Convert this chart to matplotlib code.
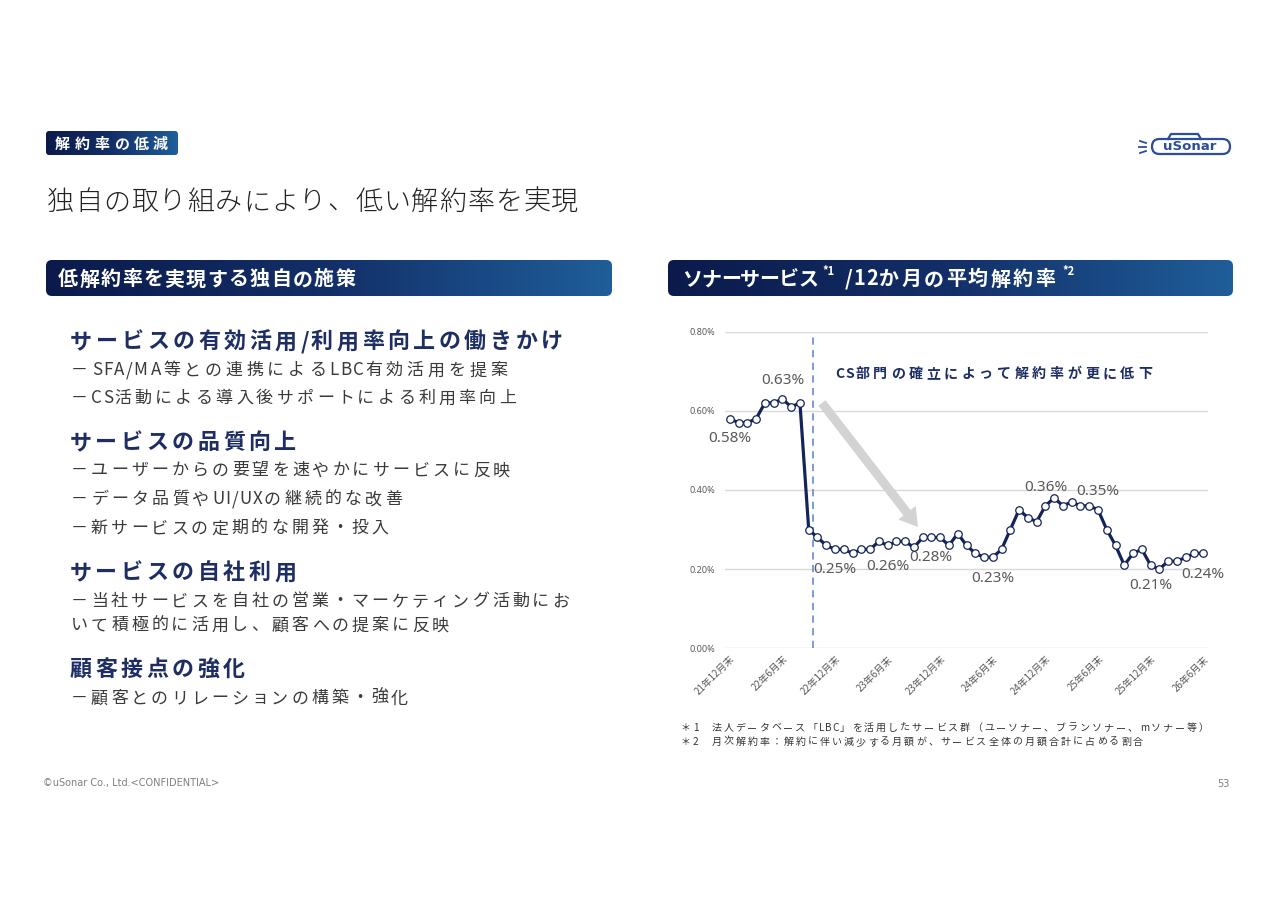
import numpy as np
import matplotlib
matplotlib.use("Agg")
import matplotlib.pyplot as plt
from matplotlib import font_manager
from matplotlib.ft2font import FT2Font
from matplotlib.patches import FancyBboxPatch, FancyArrow
from matplotlib.colors import LinearSegmentedColormap

# =====================================
# Fonts / colours
# =====================================
JP = "Noto Sans CJK JP"
plt.rcParams["font.family"] = [JP, "DejaVu Sans"]

NAVY = "#14245a"
HEAD_NAVY = "#1e2e64"
BODY = "#3a3a3a"
GREY = "#595959"

# =====================================
# Data
# =====================================
TICK_LABELS = ["21年12月末", "22年6月末", "22年12月末", "23年6月末", "23年12月末",
               "24年6月末", "24年12月末", "25年6月末", "25年12月末", "26年6月末"]

# 12か月平均解約率 (%), monthly from 21年12月末 to 26年6月末
CHURN_RATE = [0.58, 0.57, 0.57, 0.58, 0.62, 0.62, 0.63, 0.61, 0.62,
              0.30, 0.28, 0.26, 0.25, 0.25, 0.24, 0.25, 0.25, 0.27,
              0.26, 0.27, 0.27, 0.255, 0.28, 0.28, 0.28, 0.26, 0.29,
              0.26, 0.24, 0.23, 0.23, 0.25, 0.30, 0.35, 0.33, 0.32,
              0.36, 0.38, 0.36, 0.37, 0.36, 0.36, 0.35, 0.30, 0.26,
              0.21, 0.24, 0.25, 0.21, 0.20, 0.22, 0.22, 0.23, 0.24, 0.24]

LABEL_IDX = [0, 6, 12, 18, 24, 30, 36, 42, 48, 54]
LABEL_OFFSET = [(0, -20), (0, 18), (0, -20), (0, -21), (-9, -20),
                (0, -21), (0, 18), (0, 18), (0, -20), (0, -21)]

CS_START = 9.45  # CS部門の確立

Y_TICKS = [0.0, 0.2, 0.4, 0.6, 0.8]

HEADINGS = ["サービスの有効活用/利用率向上の働きかけ", "サービスの品質向上",
            "サービスの自社利用", "顧客接点の強化"]
BULLETS = [
    ["－SFA/MA等との連携によるLBC有効活用を提案",
     "－CS活動による導入後サポートによる利用率向上"],
    ["－ユーザーからの要望を速やかにサービスに反映",
     "－データ品質やUI/UXの継続的な改善",
     "－新サービスの定期的な開発・投入"],
    ["－当社サービスを自社の営業・マーケティング活動にお",
     "いて積極的に活用し、顧客への提案に反映"],
    ["－顧客とのリレーションの構築・強化"],
]

FOOTNOTES = ["＊1　法人データベース「LBC」を活用したサービス群（ユーソナー、ブランソナー、mソナー等）",
             "＊2　月次解約率：解約に伴い減少する月額が、サービス全体の月額合計に占める割合"]

W, H = 1280, 905
fig = plt.figure(figsize=(W / 100, H / 100), dpi=100)

# =====================================
# Chart
# =====================================
ax_l, ax_r, ax_t, ax_b = 725, 1208, 331.7, 648.3
ax = fig.add_axes([ax_l / W, 1 - ax_b / H, (ax_r - ax_l) / W, (ax_b - ax_t) / H])
x = np.arange(len(CHURN_RATE))
ax.plot(x, CHURN_RATE, color=NAVY, lw=2.3, marker="o", ms=5.4,
        mfc="white", mec=NAVY, mew=0.9, zorder=4)
ax.set_xlim(-0.55, len(CHURN_RATE) - 0.45)
ax.set_ylim(0, 0.8)
ax.set_yticks(Y_TICKS)
ax.set_yticklabels([f"{v:.2f}%" for v in Y_TICKS], fontsize=6.5, color=GREY,
                   family=["Noto Sans", "DejaVu Sans"])
ax.set_xticks(x[::6])
ax.set_xticklabels(TICK_LABELS, rotation=45, ha="right", rotation_mode="anchor",
                   fontsize=7, color=GREY)
ax.tick_params(axis="both", length=0)
ax.tick_params(axis="y", pad=7)
ax.tick_params(axis="x", pad=4)
for s in ax.spines.values():
    s.set_visible(False)
ax.grid(axis="y", color="#d9d9d9", lw=1)
ax.set_axisbelow(True)
ax.axvline(CS_START, color="#6d95db", lw=1.3, ls=(0, (4, 3)), zorder=2)

for i, (dx, dy) in zip(LABEL_IDX, LABEL_OFFSET):
    ax.annotate(f"{CHURN_RATE[i]:.2f}%", (x[i], CHURN_RATE[i]), xytext=(dx, dy),
                textcoords="offset pixels", ha="center", va="center",
                fontsize=11, color=GREY, family=["Noto Sans", "DejaVu Sans"])

# =====================================
# Slide overlay (pixel coordinates)
# =====================================
ov = fig.add_axes([0, 0, 1, 1])
ov.axis("off")

_adv = {}


def advance_em(ch, weight):
    key = (ch, weight)
    if key not in _adv:
        path = font_manager.findfont(font_manager.FontProperties(family=JP, weight=weight))
        font = FT2Font(path)
        font.set_size(100, 72)
        glyph = font.load_char(ord(ch))
        _adv[key] = glyph.linearHoriAdvance / 65536 / 100
    return _adv[key]


def spaced(x0, x1, yc, s, size_px, weight="normal", color=BODY):
    # letter-spaced text: full-width glyphs get full tracking, latin gets less
    ems = [advance_em(c, weight) for c in s]
    shares = [1.0 if e > 0.8 else 0.35 for e in ems[:-1]]
    nat = sum(ems) * size_px
    track = (x1 - x0 - nat) / max(sum(shares), 1e-6)
    base = yc + 0.37 * size_px
    xp = x0
    for k, (c, e) in enumerate(zip(s, ems)):
        ov.text(xp + e * size_px / 2, base, c, fontsize=size_px * 0.72,
                fontweight=weight, color=color, ha="center", va="baseline")
        xp += e * size_px + (track * shares[k] if k < len(shares) else 0)


bar_cmap = LinearSegmentedColormap.from_list("bar", ["#0b1a4b", "#132f68", "#1f5e9a"])


def grad_bar(x0, y0, x1, y1, r):
    grad = np.linspace(0, 1, 256).reshape(1, -1)
    im = ov.imshow(grad, extent=(x0, x1, y1, y0), cmap=bar_cmap, aspect="auto",
                   interpolation="bilinear", zorder=1)
    patch = FancyBboxPatch((x0, y0), x1 - x0, y1 - y0,
                           boxstyle=f"round,pad=0,rounding_size={r}",
                           fc="none", ec="none", transform=ov.transData)
    ov.add_patch(patch)
    im.set_clip_path(patch)


# tag + title
grad_bar(46, 131, 178, 155, 3)
spaced(55, 168, 143, "解約率の低減", 15, "bold", "white")
spaced(47, 578, 200, "独自の取り組みにより、低い解約率を実現", 27, "light", "#222222")

# section bars
grad_bar(46, 260, 612, 296, 6)
spaced(58, 355, 278, "低解約率を実現する独自の施策", 20, "bold", "white")
grad_bar(668, 260, 1233, 296, 6)
spaced(682, 818, 278, "ソナーサービス", 20, "bold", "white")
ov.text(822, 271, "*1", fontsize=8, fontweight="bold", color="white", va="center")
spaced(845, 1055, 278, "/12か月の平均解約率", 20, "bold", "white")
ov.text(1062, 271, "*2", fontsize=8, fontweight="bold", color="white", va="center")

# left body text
head_y = [340, 441, 571, 668]
head_x1 = [563, 296, 296, 245]
bullet_y = [[369, 397], [469, 498, 527], [600, 624], [697]]
bullet_x1 = [[507, 516], [510, 402, 388], [569, 449], [408]]
for hy, hx1, head, lines, ys, xs in zip(head_y, head_x1, HEADINGS, BULLETS, bullet_y, bullet_x1):
    spaced(70, hx1, hy, head, 22, "bold", HEAD_NAVY)
    for line, ly, lx1 in zip(lines, ys, xs):
        spaced(71, lx1, ly, line, 17, "normal", BODY)

# chart annotation + arrow
spaced(835, 1152, 373, "CS部門の確立によって解約率が更に低下", 14, "bold", HEAD_NAVY)
ov.add_patch(FancyArrow(822, 403, 96, 124, width=9, head_width=22, head_length=18,
                        length_includes_head=True, color="#d3d3d3", lw=0))

# footnotes
spaced(681, 1209, 727, FOOTNOTES[0], 10, "normal", "#333333")
spaced(681, 1143, 741, FOOTNOTES[1], 10, "normal", "#333333")

# logo
LOGO = "#2c4c9c"
ov.add_patch(FancyBboxPatch((1152, 139), 78, 15, boxstyle="round,pad=0,rounding_size=7.5",
                            fc="white", ec=LOGO, lw=1.6))
ov.plot([1168, 1171, 1198, 1201], [139, 134, 134, 139], color=LOGO, lw=1.6)
ov.text(1190, 147, "uSonar", fontsize=9.5, fontweight="bold", color=LOGO,
        ha="center", va="center", family=["DejaVu Sans"])
for (xa, ya, xb, yb) in [(1140, 141, 1146, 143), (1139, 147, 1146, 147), (1140, 153, 1146, 151)]:
    ov.plot([xa, xb], [ya, yb], color=LOGO, lw=1.3)

# footer
ov.text(43, 783, "©uSonar Co., Ltd.<CONFIDENTIAL>", fontsize=7, color="#7f7f7f",
        va="center", family=["DejaVu Sans"])
ov.text(1230, 784, "53", fontsize=7, color="#7f7f7f", va="center", ha="right",
        family=["DejaVu Sans"])

ov.set_xlim(0, W)
ov.set_ylim(H, 0)

fig.savefig("out.png", dpi=100, facecolor="white")
